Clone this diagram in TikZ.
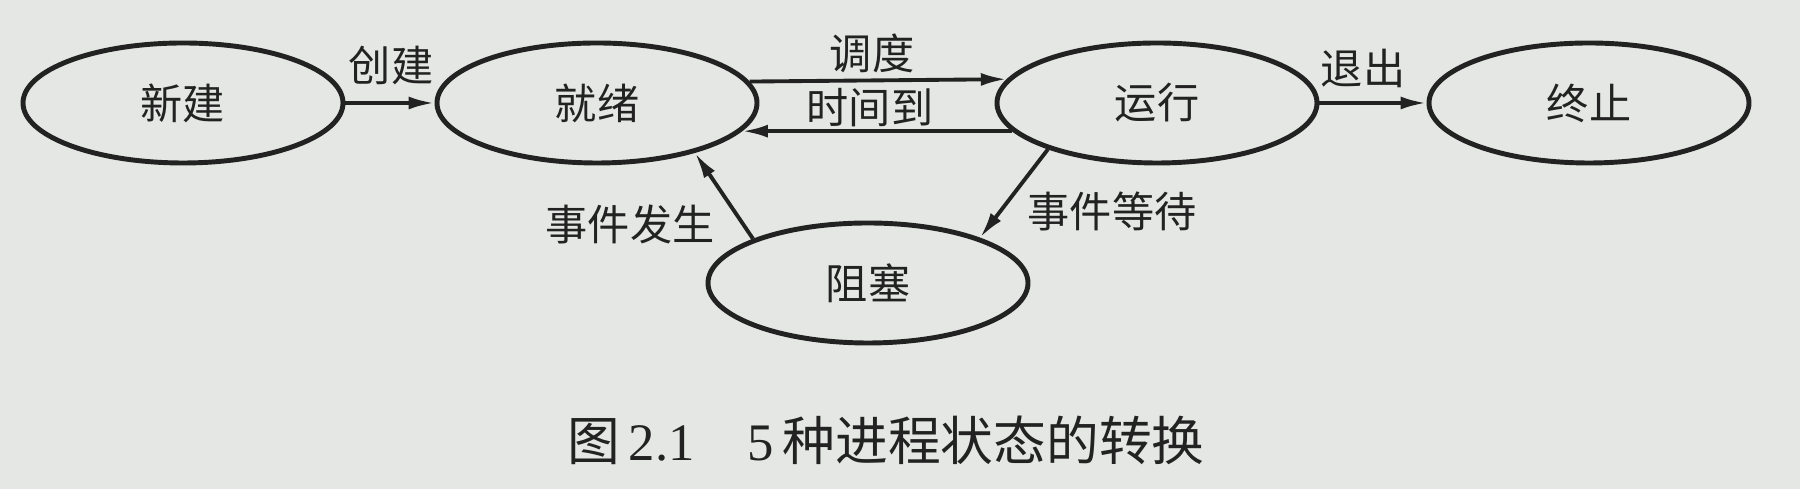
\documentclass[tikz,border=0pt]{standalone}
\usepackage{fontspec}
\setmainfont{Liberation Serif}
\newfontfamily\cjk{Noto Sans CJK SC}
\usetikzlibrary{shapes.geometric,arrows.meta}
\definecolor{paper}{RGB}{228,231,228}
\definecolor{ink}{RGB}{34,34,34}
\tikzset{
  state/.style={ellipse,draw=ink,line width=1.4pt,minimum width=3.2cm,minimum height=1.2cm,inner sep=0pt,
    font=\cjk\fontsize{12}{14}\selectfont,text=ink},
  conn/.style={draw=ink,line width=1.1pt,-{Latex[length=2.6mm,width=1.3mm]}},
  lbl/.style={font=\cjk\fontsize{12}{14}\selectfont,text=ink,inner sep=0pt}
}
\begin{document}
\begin{tikzpicture}
\fill[paper] (0,0) rectangle (18,-4.89);
\useasboundingbox (0,0) rectangle (18,-4.89);
\node[state] (xj) at (1.83,-1.03) {新建};
\node[state] (jx) at (5.97,-1.03) {就绪};
\node[state] (yx) at (11.57,-1.03) {运行};
\node[state] (zz) at (15.89,-1.03) {终止};
\node[state] (zs) at (8.68,-2.83) {阻塞};
\draw[conn] (xj.east) -- (jx.west);
\draw[conn] (jx.8.85) -- (yx.171.15);
\draw[conn] (yx.191.7) -- (jx.-11.7);
\draw[conn] (yx.east) -- (zz.west);
\draw[conn] (zs.159.9) -- (jx.-27.5);
\draw[conn] (yx.203.4) -- (zs.22.5);
\node[lbl] (l1) at (3.91,-0.65) {创建};
\node[lbl] (l2) at (8.72,-0.53) {调度};
\node[lbl] (l3) at (8.70,-1.08) {时间到};
\node[lbl] (l4) at (13.63,-0.68) {退出};
\node[lbl] (l5) at (6.30,-2.24) {事件发生};
\node[lbl] (l6) at (11.12,-2.11) {事件等待};
\node[text=ink,inner sep=0pt,font=\fontsize{15}{18}\selectfont] (cap) at (8.86,-4.40)
  {{\cjk 图}\,2.1\quad 5\,{\cjk 种进程状态的转换}};
\end{tikzpicture}
\end{document}
